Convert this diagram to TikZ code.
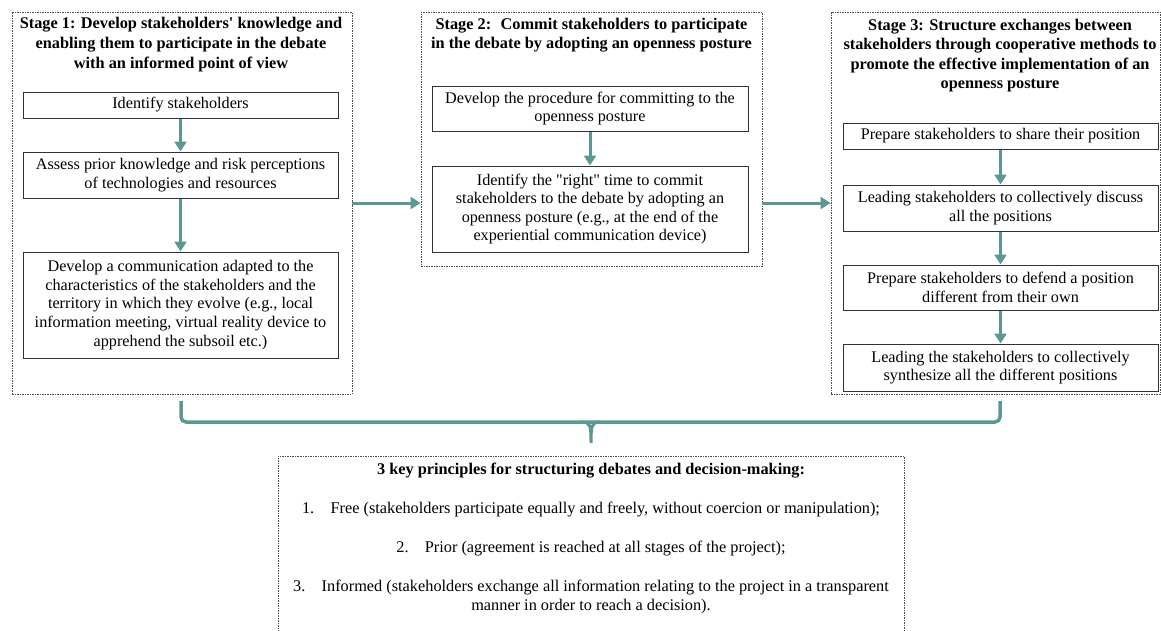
\documentclass[tikz,border=0pt]{standalone}
\usepackage{fontspec}
\setmainfont{Liberation Serif}
\usepackage{xcolor}
\usetikzlibrary{arrows.meta, positioning, calc}
\definecolor{flowteal}{RGB}{91,152,148}
\tikzset{
  stagebox/.style={
    draw=gray!60!black, dash pattern=on 1.5pt off 1pt, line width=0.9pt
  },
  stagetitle/.style={
    font=\fontsize{16.3}{19.6}\selectfont\bfseries, align=center, inner sep=0pt
  },
  stepbox/.style={
    draw=black!80, line width=1pt, align=center,
    font=\fontsize{16.2}{18.6}\selectfont, minimum width=315pt, inner sep=1pt
  },
  flowarrow/.style={
    -{Triangle[length=10pt,width=12pt]}, line width=3pt, color=flowteal
  },
  bracepath/.style={
    line width=3.5pt, color=flowteal, rounded corners=5pt
  },
  principlestext/.style={
    font=\fontsize{16.3}{19.5}\selectfont, align=center, inner sep=0pt
  },
}

\begin{document}
\begin{tikzpicture}[x=1pt, y=-1pt]
  \useasboundingbox (0,0) rectangle (1161,630);

  % Stage frames
  \node[stagebox, minimum width=340pt, minimum height=382pt] (s1) at (182,203) {};
  \node[stagebox, minimum width=341pt, minimum height=254pt] (s2) at (591.5,139) {};
  \node[stagebox, minimum width=329pt, minimum height=382pt] (s3) at (995.5,203) {};

  % Stage titles
  \node[stagetitle] (t1) at (181,44.5) {%
    Stage 1: Develop stakeholders\textquotesingle{} knowledge and\\
    enabling them to participate in the debate\\
    with an informed point of view};
  \node[stagetitle] (t2) at (591.5,35) {%
    Stage 2:~ Commit stakeholders to participate\\
    in the debate by adopting an openness posture};
  \node[stagetitle] (t3) at (1000,55.5) {%
    Stage 3: Structure exchanges between\\
    stakeholders through cooperative methods to\\
    promote the effective implementation of an\\
    openness posture};

  % Stage 1 steps
  \node[stepbox, minimum height=26pt] (a1) at (180.5,105) {Identify stakeholders};
  \node[stepbox, minimum height=46pt] (a2) at (180.5,175) {%
    Assess prior knowledge and risk perceptions\\
    of technologies and resources};
  \node[stepbox, minimum height=106pt] (a3) at (180.5,305) {%
    Develop a communication adapted to the\\
    characteristics of the stakeholders and the\\
    territory in which they evolve (e.g., local\\
    information meeting, virtual reality device to\\
    apprehend the subsoil etc.)};

  % Stage 2 steps
  \node[stepbox, minimum width=316pt, minimum height=45pt] (b1) at (590,108.5) {%
    Develop the procedure for committing to the\\
    openness posture};
  \node[stepbox, minimum width=316pt, minimum height=86pt] (b2) at (590,209) {%
    Identify the \textquotedbl right\textquotedbl{} time to commit\\
    stakeholders to the debate by adopting an\\
    openness posture (e.g., at the end of the\\
    experiential communication device)};

  % Stage 3 steps
  \node[stepbox, minimum height=26pt] (c1) at (1000.5,136) {%
    Prepare stakeholders to share their position};
  \node[stepbox, minimum height=46pt] (c2) at (1000.5,208) {%
    Leading stakeholders to collectively discuss\\
    all the positions};
  \node[stepbox, minimum height=45pt] (c3) at (1000.5,287.5) {%
    Prepare stakeholders to defend a position\\
    different from their own};
  \node[stepbox, minimum height=47pt] (c4) at (1000.5,367.5) {%
    Leading the stakeholders to collectively\\
    synthesize all the different positions};

  % Principles box
  \node[stagebox, minimum width=626pt, minimum height=194pt] (kp) at (591,553) {};
  \node[principlestext] (kptext) at (591,538.5) {%
    {\bfseries 3 key principles for structuring debates and decision-making:}\\[19.5pt]
    1.\quad Free (stakeholders participate equally and freely, without coercion or manipulation);\\[19.5pt]
    2.\quad Prior (agreement is reached at all stages of the project);\\[19.5pt]
    3.\quad Informed (stakeholders exchange all information relating to the project in a transparent\\
    manner in order to reach a decision).};

  % Arrows within stages
  \draw[flowarrow] (a1.south) -- (a2.north);
  \draw[flowarrow] (a2.south) -- (a3.north);
  \draw[flowarrow] (b1.south) -- (b2.north);
  \draw[flowarrow] (c1.south) -- (c2.north);
  \draw[flowarrow] (c2.south) -- (c3.north);
  \draw[flowarrow] (c3.south) -- (c4.north);

  % Arrows between stages
  \draw[flowarrow] (s1.east) -- (s1.east -| s2.west);
  \draw[flowarrow] (s2.east |- s1.east) -- (s3.west);

  % Brace gathering the stages
  \coordinate (braceL) at (181,401);
  \coordinate (braceR) at (1000,401);
  \coordinate (bracetip) at (591,443);
  \draw[bracepath] (braceL) -- ++(0,21) -| (braceR);
  \draw[line width=3pt, color=flowteal, line cap=round]
    ($(bracetip)+(-9,-21)$) .. controls ($(bracetip)+(-1,-21)$) and ($(bracetip)+(0,-18)$) .. (bracetip)
    .. controls ($(bracetip)+(0,-18)$) and ($(bracetip)+(1,-21)$) .. ($(bracetip)+(9,-21)$);
\end{tikzpicture}
\end{document}
